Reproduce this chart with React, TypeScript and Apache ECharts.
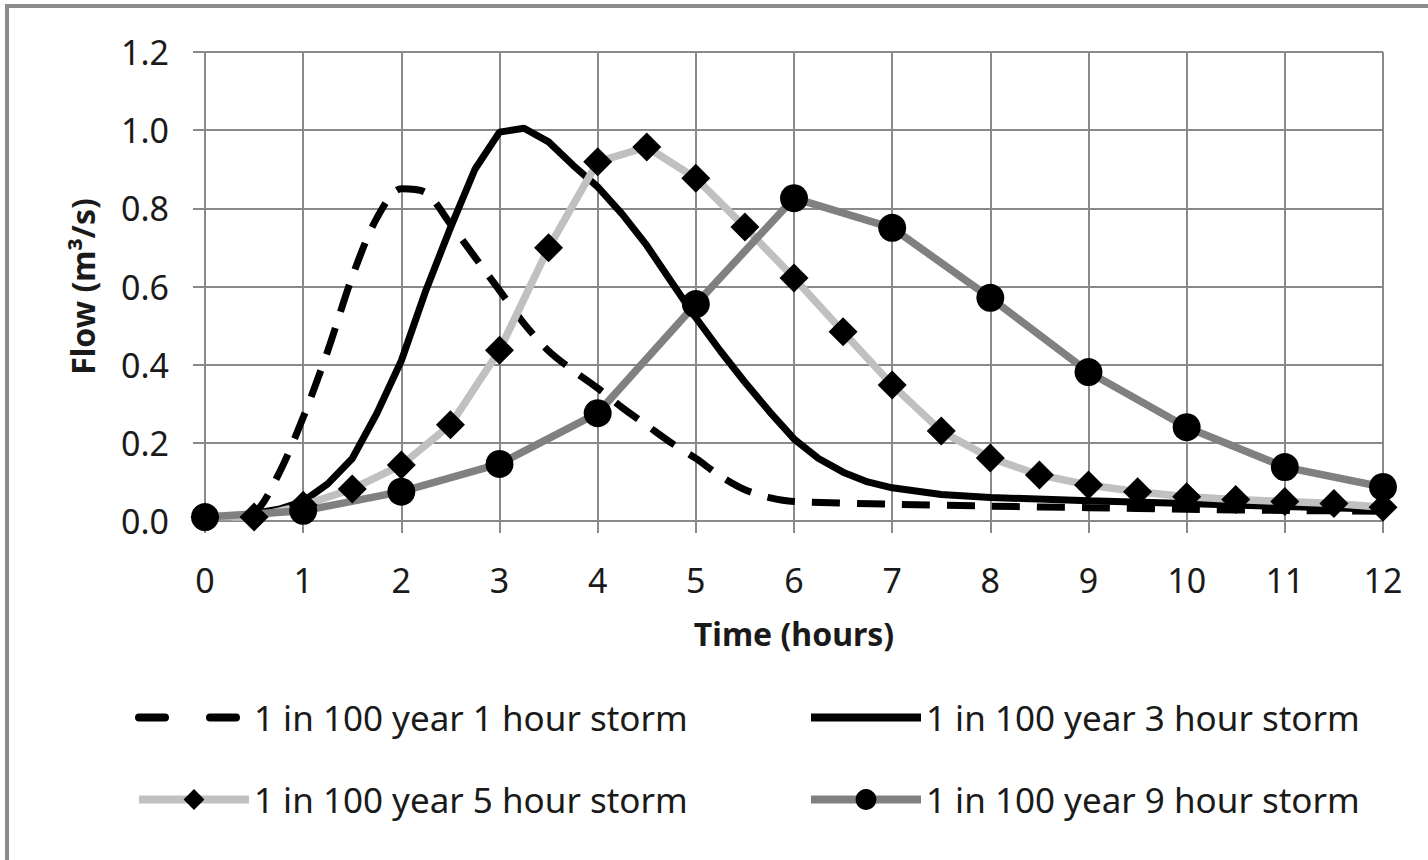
import React, { useEffect, useRef } from "react";
import * as echarts from "echarts";

const seriesNames = [
  "1 in 100 year 1 hour storm",
  "1 in 100 year 3 hour storm",
  "1 in 100 year 5 hour storm",
  "1 in 100 year 9 hour storm",
];

const oneHourTimes = [0, 0.25, 0.5, 0.75, 1, 1.25, 1.5, 1.75, 2, 2.25, 2.5, 2.75, 3, 3.25, 3.5, 3.75, 4, 4.25, 4.5, 4.75, 5, 5.25, 5.5, 5.75, 6, 7, 8, 9, 10, 11, 12];
const oneHourFlow = [0.01, 0.01, 0.02, 0.12, 0.265, 0.435, 0.625, 0.775, 0.85, 0.84, 0.76, 0.675, 0.59, 0.505, 0.435, 0.385, 0.34, 0.29, 0.245, 0.2, 0.16, 0.115, 0.08, 0.06, 0.05, 0.043, 0.038, 0.034, 0.03, 0.027, 0.025];

const threeHourTimes = [0, 0.25, 0.5, 0.75, 1, 1.25, 1.5, 1.75, 2, 2.25, 2.5, 2.75, 3, 3.25, 3.5, 3.75, 4, 4.25, 4.5, 4.75, 5, 5.25, 5.5, 5.75, 6, 6.25, 6.5, 6.75, 7, 7.5, 8, 9, 10, 11, 12];
const threeHourFlow = [0.01, 0.01, 0.02, 0.03, 0.05, 0.095, 0.16, 0.275, 0.41, 0.59, 0.75, 0.9, 0.995, 1.005, 0.97, 0.91, 0.855, 0.785, 0.705, 0.612, 0.52, 0.435, 0.355, 0.28, 0.21, 0.16, 0.125, 0.1, 0.085, 0.068, 0.06, 0.052, 0.045, 0.037, 0.03];

const fiveHourTimes = [0, 0.5, 1, 1.5, 2, 2.5, 3, 3.5, 4, 4.5, 5, 5.5, 6, 6.5, 7, 7.5, 8, 8.5, 9, 9.5, 10, 10.5, 11, 11.5, 12];
const fiveHourFlow = [0.01, 0.01, 0.04, 0.082, 0.143, 0.246, 0.437, 0.699, 0.919, 0.957, 0.877, 0.752, 0.622, 0.484, 0.348, 0.23, 0.161, 0.118, 0.092, 0.075, 0.062, 0.055, 0.05, 0.045, 0.035];

const nineHourTimes = [0, 1, 2, 3, 4, 5, 6, 7, 8, 9, 10, 11, 12];
const nineHourFlow = [0.01, 0.026, 0.075, 0.146, 0.276, 0.555, 0.826, 0.75, 0.571, 0.381, 0.24, 0.138, 0.087];

const pairs = (xs: number[], ys: number[]) => xs.map((x, i) => [x, ys[i]]);

const FONT = "'Noto Sans', 'Open Sans', sans-serif";
const GRID = "#8a8a8a";
const TXT = "#1a1a1a";

export default function App() {
  const ref = useRef<HTMLDivElement>(null);
  useEffect(() => {
    const chart = echarts.init(ref.current!, null, { renderer: "svg" });
    const legendBase = {
      orient: "horizontal",
      padding: 0,
      itemHeight: 26,
      itemWidth: 110,
      textStyle: { fontFamily: FONT, fontSize: 35, color: TXT },
      selectedMode: false,
    };
    chart.setOption({
      animation: false,
      backgroundColor: "#ffffff",
      textStyle: { fontFamily: FONT },
      grid: { left: 205, right: 45, top: 52, bottom: 339, containLabel: false },
      graphic: [
        {
          type: "rect",
          shape: { x: 7, y: 6, width: 1600, height: 1000 },
          style: { fill: "none", stroke: "#8c8c8c", lineWidth: 4 },
          silent: true,
        },
      ],
      xAxis: {
        type: "value",
        min: 0,
        max: 12,
        interval: 1,
        name: "Time (hours)",
        nameLocation: "middle",
        nameGap: 96,
        nameTextStyle: { fontFamily: FONT, fontSize: 32, fontWeight: "bold", color: TXT },
        axisLine: { show: true, lineStyle: { color: GRID, width: 2 } },
        axisTick: { show: true, length: 12, lineStyle: { color: GRID, width: 2 } },
        axisLabel: { margin: 42, fontFamily: FONT, fontSize: 34, color: TXT },
        splitLine: { show: true, lineStyle: { color: GRID, width: 2 } },
      },
      yAxis: {
        type: "value",
        min: 0,
        max: 1.2,
        interval: 0.2,
        name: "Flow (m³/s)",
        nameLocation: "middle",
        nameGap: 107,
        nameRotate: 90,
        nameTextStyle: { fontFamily: FONT, fontSize: 32, fontWeight: "bold", color: TXT },
        axisLine: { show: true, lineStyle: { color: GRID, width: 2 } },
        axisTick: { show: true, length: 12, lineStyle: { color: GRID, width: 2 } },
        axisLabel: {
          margin: 36,
          fontFamily: FONT,
          fontSize: 34,
          color: TXT,
          formatter: (v: number) => v.toFixed(1),
        },
        splitLine: { show: true, lineStyle: { color: GRID, width: 2 } },
      },
      legend: [
        {
          ...legendBase,
          data: [{ name: seriesNames[0], itemStyle: { opacity: 0 } }],
          left: 135,
          top: 700,
          lineStyle: { type: [26, 45], width: 8, cap: "round" },
        },
        {
          ...legendBase,
          data: [{ name: seriesNames[1], itemStyle: { opacity: 0 } }],
          left: 807,
          top: 700,
          lineStyle: { width: 8 },
        },
        { ...legendBase, data: [seriesNames[2]], left: 135, top: 782, lineStyle: { width: 8 } },
        { ...legendBase, data: [seriesNames[3]], left: 807, top: 782, lineStyle: { width: 8 } },
      ],
      series: [
        {
          name: seriesNames[0],
          type: "line",
          data: pairs(oneHourTimes, oneHourFlow),
          symbol: "none",
          smooth: 0.3,
          lineStyle: { color: "#000000", width: 7, type: [28, 17], cap: "butt" },
          itemStyle: { color: "#000000" },
        },
        {
          name: seriesNames[1],
          type: "line",
          data: pairs(threeHourTimes, threeHourFlow),
          symbol: "none",
          lineStyle: { color: "#000000", width: 7 },
          itemStyle: { color: "#000000" },
        },
        {
          name: seriesNames[2],
          type: "line",
          data: pairs(fiveHourTimes, fiveHourFlow),
          symbol: "diamond",
          symbolSize: 29,
          lineStyle: { color: "#c0c0c0", width: 7.5 },
          itemStyle: { color: "#000000" },
        },
        {
          name: seriesNames[3],
          type: "line",
          data: pairs(nineHourTimes, nineHourFlow),
          symbol: "circle",
          symbolSize: 28,
          lineStyle: { color: "#808080", width: 7.5 },
          itemStyle: { color: "#000000" },
        },
      ],
    });
    return () => chart.dispose();
  }, []);
  return (
    <div
      ref={ref}
      style={{ position: "fixed", left: 0, top: 0, width: 1428, height: 860, background: "#fff" }}
    />
  );
}
